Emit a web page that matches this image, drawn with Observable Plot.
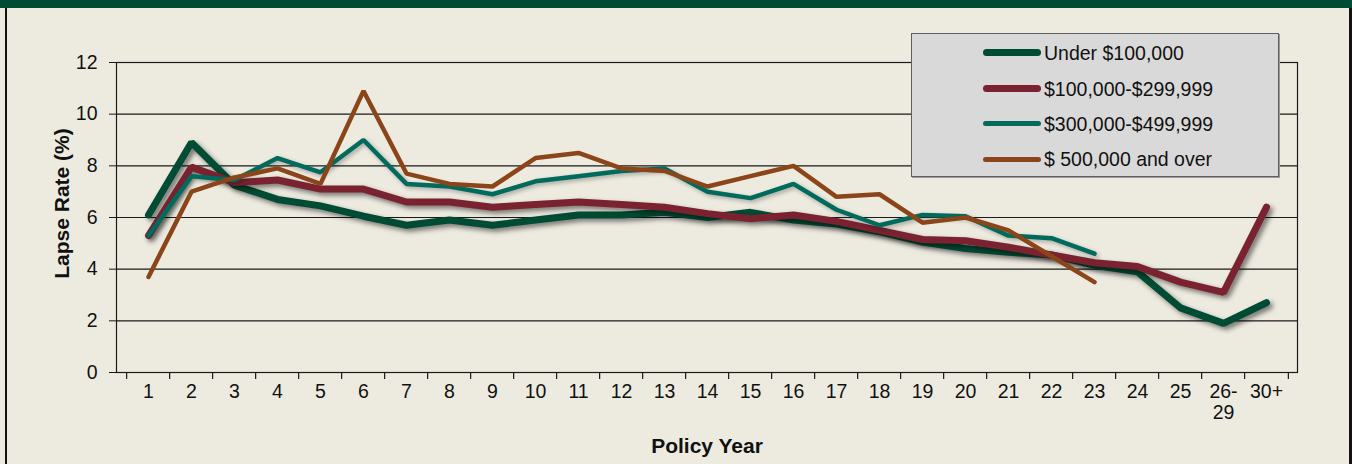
<!DOCTYPE html>
<html>
<head>
<meta charset="utf-8">
<script src="https://cdn.jsdelivr.net/npm/d3@7"></script>
<script src="https://cdn.jsdelivr.net/npm/@observablehq/plot@0.6"></script>
<style>
  html, body { margin: 0; padding: 0; overflow: hidden; background: #EDEBE0; }
  #wrap { position: relative; width: 1352px; height: 464px; background: #EDEBE0; font-family: "Liberation Sans", Arial, sans-serif; }
  #band { position: absolute; left: 0; top: 0; width: 1352px; height: 8px; background: #004B33; }
  #lb { position: absolute; left: 5px; top: 8px; width: 2px; height: 456px; background: #111; }
  #rb { position: absolute; left: 1349px; top: 8px; width: 3px; height: 456px; background: #111; }
  #chart { position: absolute; left: 0; top: 0; }
  #legend { position: absolute; left: 911px; top: 33px; width: 366px; height: 142px; background: #D9D9D9; border: 1px solid #5e5e5e; box-shadow: 1px 1px 0 #9a9a9a; }
  .row { position: absolute; left: 0; height: 24px; }
  .sw { position: absolute; left: 71px; width: 58px; border-radius: 4px; }
  .lab { position: absolute; left: 132px; top: 0; line-height: 24px; font-size: 19.5px; color: #111; white-space: nowrap; }
</style>
</head>
<body>
<div id="wrap">
  <div id="chart"></div>
  <div id="band"></div>
  <div id="lb"></div>
  <div id="rb"></div>
  <div id="legend"></div>
</div>
<script>
const categories = ["1","2","3","4","5","6","7","8","9","10","11","12","13","14","15","16","17","18","19","20","21","22","23","24","25","26-29","30+"];
const under100k = [6.1,8.9,7.25,6.7,6.45,6.05,5.7,5.9,5.7,5.9,6.1,6.1,6.2,6.0,6.2,5.9,5.75,5.45,5.05,4.8,4.65,4.55,4.15,3.9,2.5,1.9,2.7];
const from100kTo299k = [5.3,7.95,7.35,7.45,7.1,7.1,6.6,6.6,6.4,6.5,6.6,6.5,6.4,6.15,5.95,6.1,5.85,5.5,5.15,5.1,4.85,4.55,4.25,4.1,3.5,3.1,6.4];
const from300kTo499k = [5.3,7.6,7.45,8.3,7.75,9.0,7.3,7.2,6.9,7.4,7.6,7.8,7.9,7.0,6.75,7.3,6.3,5.7,6.1,6.05,5.3,5.2,4.6];
const over500k = [3.7,7.0,7.55,7.9,7.3,10.9,7.7,7.3,7.2,8.3,8.5,7.9,7.8,7.2,7.6,8.0,6.8,6.9,5.8,6.0,5.5,4.5,3.5];
const seriesNames = ["Under $100,000", "$100,000-$299,999", "$300,000-$499,999", "$ 500,000 and over"];
const yTicks = [0,2,4,6,8,10,12];
const colors = ["#004B33", "#7B2231", "#006B5C", "#8B4518"];
const widths = [7, 7, 4.5, 4.5];

const seriesValues = [under100k, from100kTo299k, from300kTo499k, over500k];
const data = seriesValues.map((vals, s) => vals.map((v, i) => ({cat: categories[i], value: v, series: seriesNames[s]})));

const mL = 116, mR = 55, mT = 62, mB = 92, W = 1352, H = 464;
const step = (W - mL - mR) / categories.length;

const chart = Plot.plot({
  width: W, height: H,
  marginLeft: mL, marginRight: mR, marginTop: mT, marginBottom: mB,
  style: {background: "transparent", fontFamily: "Liberation Sans, Arial, sans-serif", fontSize: "19.5px", color: "#111"},
  x: {type: "point", domain: categories, padding: 0.5},
  y: {domain: [0, 12]},
  marks: [
    Plot.ruleY(yTicks, {stroke: "#1a1a1a", strokeWidth: 1.2}),
    Plot.frame({stroke: "#1a1a1a", strokeWidth: 1.2}),
    Plot.axisY({ticks: yTicks, tickSize: 7, tickPadding: 12, fontSize: 19.5, label: null, stroke: "#1a1a1a"}),
    Plot.axisX({tickSize: 0, tickPadding: 10, fontSize: 19.5, lineHeight: 1.1, label: null, tickFormat: d => d === "26-29" ? "26-\n29" : d}),
    Plot.ruleX(categories, {x: d => d, y1: 0, y2: 0, insetBottom: -7, dx: -step / 2, stroke: "#1a1a1a", strokeWidth: 1.2}),
    Plot.ruleX(categories.slice(-1), {x: d => d, y1: 0, y2: 0, insetBottom: -7, dx: step / 2, stroke: "#1a1a1a", strokeWidth: 1.2}),
    ...data.map((d, s) => Plot.line(d, {x: "cat", y: "value", stroke: colors[s], strokeWidth: widths[s], strokeLinejoin: "miter", strokeLinecap: "round"})),
    Plot.text(["Lapse Rate (%)"], {frameAnchor: "left", textAnchor: "middle", dx: -54, dy: -14, rotate: -90, fontWeight: "bold", fontSize: 21, fill: "#111"}),
    Plot.text(["Policy Year"], {frameAnchor: "bottom", textAnchor: "middle", dy: 80, fontWeight: "bold", fontSize: 21, fill: "#111"})
  ]
});

chart.querySelectorAll('g[aria-label="line"]').forEach((g, i) => {
  if (i < 2) g.style.filter = "drop-shadow(3px 3px 2.5px rgba(0,0,0,0.5))";
  else if (i === 2) g.style.filter = "drop-shadow(2px 2px 2px rgba(0,0,0,0.3))";
});

document.getElementById("chart").appendChild(chart);

const legend = document.getElementById("legend");
const rowCenters = [18.5, 54.5, 89.5, 125];
seriesNames.forEach((name, i) => {
  const row = document.createElement("div");
  row.className = "row";
  row.style.top = (rowCenters[i] - 12) + "px";
  row.style.width = "366px";
  const sw = document.createElement("div");
  sw.className = "sw";
  sw.style.height = (i < 2 ? 7 : 5) + "px";
  sw.style.top = (12 - (i < 2 ? 3.5 : 2.5)) + "px";
  sw.style.background = colors[i];
  const lab = document.createElement("div");
  lab.className = "lab";
  lab.textContent = name;
  row.appendChild(sw);
  row.appendChild(lab);
  legend.appendChild(row);
});
</script>
</body>
</html>
